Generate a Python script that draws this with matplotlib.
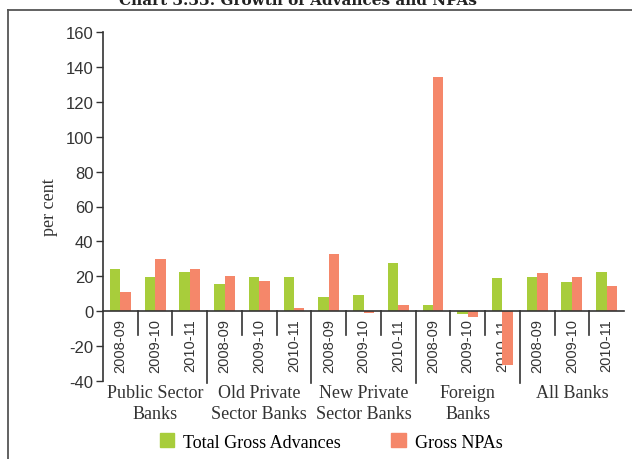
#!/usr/bin/env python3
"""
Chart: growth of advances and NPAs by bank group (per cent).
Writes out.png
"""
import matplotlib.pyplot as plt
from matplotlib.lines import Line2D
from matplotlib.patches import Patch
import numpy as np

groups = ["Public Sector\nBanks", "Old Private\nSector Banks", "New Private\nSector Banks",
          "Foreign\nBanks", "All Banks"]
years = ["2008-09", "2009-10", "2010-11"]

# per cent, in order group by group, year by year
advances = [24.2, 19.8, 22.4,
            15.5, 19.8, 19.8,
            8.0, 9.2, 27.6,
            3.4, -1.6, 19.0,
            19.8, 16.8, 22.4]
npas = [11.0, 30.0, 24.2,
        20.3, 17.2, 1.7,
        32.8, -0.9, 3.4,
        134.2, -3.3, -31.0,
        21.9, 19.8, 14.4]

GREEN = "#a8cd3b"
ORANGE = "#f5876a"
SERIF = "Liberation Serif"
SANS = "Liberation Sans"

plt.rcParams["axes.unicode_minus"] = False


def main():
    fig = plt.figure(figsize=(6.32, 4.60), dpi=100)
    ax = fig.add_axes([103 / 632, 1 - 382 / 460, 521 / 632, 349 / 460])

    n = len(advances)
    x = np.arange(n)
    w = 0.3
    ax.bar(x - w / 2, advances, w, color=GREEN, zorder=2)
    ax.bar(x + w / 2, npas, w, color=ORANGE, zorder=2)

    ax.set_xlim(-0.5, n - 0.5)
    ax.set_ylim(-40, 160)
    ax.set_yticks(range(-40, 161, 20))
    ax.tick_params(axis="y", direction="out", length=5, width=1, pad=2,
                   labelsize=12, colors="#333333")
    for lab in ax.get_yticklabels():
        lab.set_family(SANS)

    ax.spines["top"].set_visible(False)
    ax.spines["right"].set_visible(False)
    ax.spines["bottom"].set_position(("data", 0))
    for s in ("left", "bottom"):
        ax.spines[s].set_color("#333333")
        ax.spines[s].set_linewidth(1.2)

    ax.set_xticks(x)
    ax.set_xticklabels(years * len(groups), rotation=90, family=SANS,
                       fontsize=10.5, color="#333333")
    ax.tick_params(axis="x", length=0, pad=5)

    # separators under the zero line: short between years, long between groups
    for b in range(1, n):
        depth = -41 if b % 3 == 0 else -13.5
        ax.plot([b - 0.5, b - 0.5], [0, depth], color="#333333", lw=1.2,
                clip_on=False, zorder=3)

    for i, g in enumerate(groups):
        ax.text(3 * i + 1, -41.8, g, ha="center", va="top", family=SERIF,
                fontsize=13, color="#333333", linespacing=1.3, clip_on=False)

    ax.set_ylabel("per cent", family=SERIF, fontsize=13, color="#333333",
                  labelpad=5)

    handles = [Patch(color=GREEN), Patch(color=ORANGE)]
    fig.legend(handles, ["Total Gross Advances", "Gross NPAs"], ncol=2,
               loc="center", bbox_to_anchor=(331 / 632, 1 - 443 / 460),
               frameon=False, handlelength=0.8, handleheight=0.8,
               handletextpad=0.5, columnspacing=2.8,
               prop={"family": SERIF, "size": 13})

    # outer frame (top and left edges) and clipped title
    fig.add_artist(Line2D([8 / 632, 8 / 632], [0, 1 - 11 / 460],
                          transform=fig.transFigure, color="#555555", lw=1.3))
    fig.add_artist(Line2D([8 / 632, 1], [1 - 11 / 460, 1 - 11 / 460],
                          transform=fig.transFigure, color="#555555", lw=1.3))
    fig.text(298 / 632, 1 - 5 / 460, "Chart 3.33: Growth of Advances and NPAs",
             ha="center", va="baseline", family="DejaVu Serif",
             fontweight="bold", fontsize=11, color="#222222")

    fig.savefig("out.png", dpi=100)
    plt.close(fig)


if __name__ == "__main__":
    main()
